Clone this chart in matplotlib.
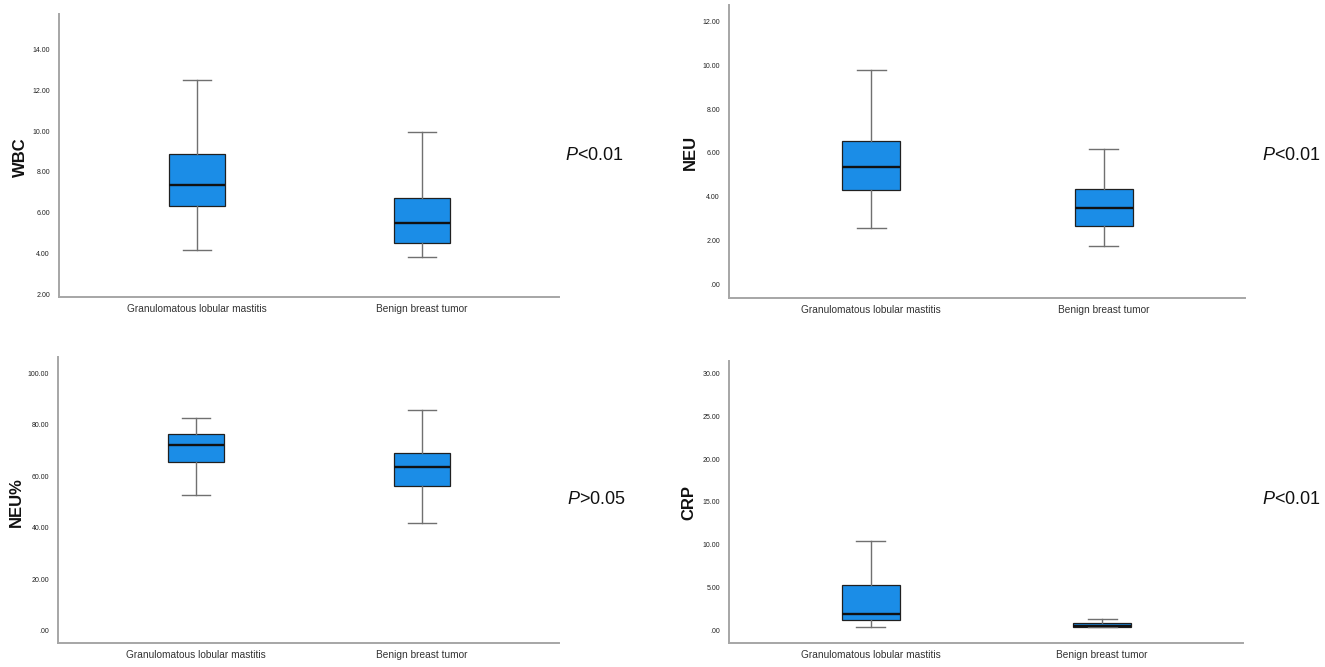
import matplotlib
matplotlib.use("Agg")
import matplotlib.pyplot as plt
from matplotlib.ticker import FuncFormatter, MultipleLocator

plt.rcParams['font.family'] = ['Liberation Sans', 'DejaVu Sans']
plt.rcParams['mathtext.fontset'] = 'custom'
plt.rcParams['mathtext.rm'] = 'Liberation Sans'
plt.rcParams['mathtext.it'] = 'Liberation Sans:italic'

categories = ["Granulomatous lobular mastitis", "Benign breast tumor"]

wbc_lo = [4.18, 3.85]
wbc_q1 = [6.34, 4.54]
wbc_med = [7.37, 5.51]
wbc_q3 = [8.88, 6.73]
wbc_hi = [12.50, 9.95]

neu_lo = [2.58, 1.75]
neu_q1 = [4.32, 2.66]
neu_med = [5.37, 3.50]
neu_q3 = [6.54, 4.35]
neu_hi = [9.80, 6.18]

neup_lo = [52.7, 41.9]
neup_q1 = [65.4, 56.3]
neup_med = [72.1, 63.7]
neup_q3 = [76.3, 69.0]
neup_hi = [82.7, 85.8]

crp_lo = [0.39, 0.35]
crp_q1 = [1.25, 0.35]
crp_med = [1.87, 0.50]
crp_q3 = [5.33, 0.82]
crp_hi = [10.45, 1.33]

ylabels = ["WBC", "NEU", "NEU%", "CRP"]
pvalues = ["$\\mathit{P}$<0.01", "$\\mathit{P}$<0.01", "$\\mathit{P}$>0.05", "$\\mathit{P}$<0.01"]

W, H = 1325, 667
fig = plt.figure(figsize=(W / 100, H / 100), dpi=100)

def px_axes(left, right, top, bottom):
    return fig.add_axes([left / W, 1 - bottom / H, (right - left) / W, (bottom - top) / H])

panels = [
    dict(box=(59, 559, 14, 297), ylim=(1.90, 15.71), step=2.0,
         data=(wbc_lo, wbc_q1, wbc_med, wbc_q3, wbc_hi), lab=(20, 157), p=(565, 156)),
    dict(box=(729, 1245, 5, 298), ylim=(-0.63, 12.75), step=2.0,
         data=(neu_lo, neu_q1, neu_med, neu_q3, neu_hi), lab=(690, 152), p=(1262, 156)),
    dict(box=(58, 559, 357, 643), ylim=(-4.78, 106.3), step=20.0,
         data=(neup_lo, neup_q1, neup_med, neup_q3, neup_hi), lab=(16, 502), p=(567, 500)),
    dict(box=(729, 1243, 361, 643), ylim=(-1.47, 31.47), step=5.0,
         data=(crp_lo, crp_q1, crp_med, crp_q3, crp_hi), lab=(689, 502), p=(1262, 500)),
]

def fmt(v, pos):
    s = f"{v:.2f}"
    if abs(v) < 1e-9:
        s = ".00"
    return s

spine_col = "#a6a6a6"
box_col = "#1b8de7"

for i, pnl in enumerate(panels):
    ax = px_axes(*pnl["box"])
    lo, q1, med, q3, hi = pnl["data"]
    stats = []
    for j, c in enumerate(categories):
        stats.append(dict(label=c, whislo=lo[j], q1=q1[j], med=med[j], q3=q3[j],
                          whishi=hi[j], fliers=[]))
    ax.bxp(stats, positions=[0, 1], widths=0.25, patch_artist=True, showfliers=False,
           boxprops=dict(facecolor=box_col, edgecolor="#202020", linewidth=0.9),
           medianprops=dict(color="#111111", linewidth=1.7),
           whiskerprops=dict(color="#707070", linewidth=1.0),
           capprops=dict(color="#707070", linewidth=1.0),
           capwidths=0.125)
    ax.set_xlim(-0.613, 1.609)
    ax.set_ylim(*pnl["ylim"])
    ax.yaxis.set_major_locator(MultipleLocator(pnl["step"]))
    ax.yaxis.set_major_formatter(FuncFormatter(fmt))
    for s in ["top", "right"]:
        ax.spines[s].set_visible(False)
    for s in ["left", "bottom"]:
        ax.spines[s].set_color(spine_col)
        ax.spines[s].set_linewidth(1.4)
    ax.tick_params(axis="y", length=0, pad=6.5, labelsize=5.0, labelcolor="#222222")
    ax.tick_params(axis="x", length=0, pad=5, labelsize=7.3, labelcolor="#333333")
    fig.text(pnl["lab"][0] / W, 1 - pnl["lab"][1] / H, ylabels[i], rotation=90,
             ha="center", va="center", fontsize=12, fontweight="bold", color="#111111")
    fig.text(pnl["p"][0] / W, 1 - pnl["p"][1] / H, pvalues[i], ha="left", va="center",
             fontsize=13, color="#111111")

fig.savefig("out.png", dpi=100, facecolor="white")
